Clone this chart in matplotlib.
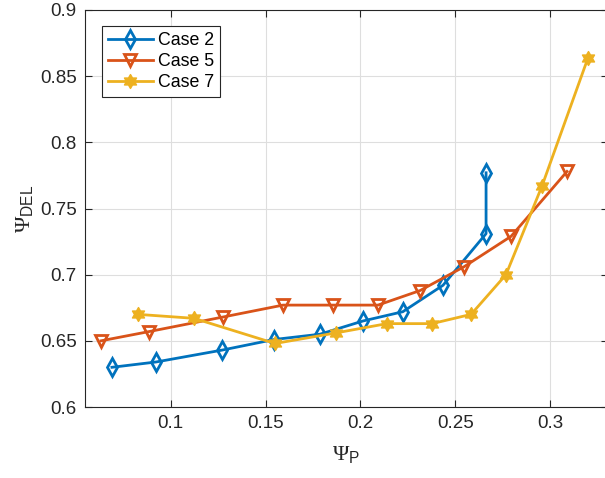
import numpy as np
import matplotlib
matplotlib.use("Agg")
import matplotlib.pyplot as plt
from matplotlib.path import Path

plt.rcParams['font.family'] = ['Liberation Sans', 'DejaVu Sans']
plt.rcParams['mathtext.fontset'] = 'custom'
plt.rcParams['mathtext.rm'] = 'Liberation Serif'
plt.rcParams['mathtext.sf'] = 'Liberation Sans'

# data
case2_x = [0.0690, 0.0922, 0.1271, 0.1545, 0.1787, 0.2014, 0.2224, 0.2436, 0.2663, 0.2663]
case2_y = [0.630, 0.634, 0.643, 0.651, 0.655, 0.665, 0.672, 0.692, 0.731, 0.777]

case5_x = [0.0632, 0.0886, 0.1276, 0.1592, 0.1856, 0.2093, 0.2315, 0.2547, 0.2795, 0.3090]
case5_y = [0.650, 0.657, 0.668, 0.677, 0.677, 0.677, 0.688, 0.706, 0.729, 0.778]

case7_x = [0.0828, 0.1123, 0.1550, 0.1872, 0.2140, 0.2378, 0.2584, 0.2768, 0.2958, 0.3201]
case7_y = [0.670, 0.667, 0.648, 0.656, 0.663, 0.663, 0.670, 0.700, 0.767, 0.864]

x_ticks = [0.1, 0.15, 0.2, 0.25, 0.3]
y_ticks = [0.6, 0.65, 0.7, 0.75, 0.8, 0.85, 0.9]

blue = '#0072BD'
orange = '#D95319'
yellow = '#EDB120'
dark = '#262626'

# six pointed star (MATLAB hexagram)
ang = np.deg2rad(90 + 30 * np.arange(12))
rad = np.where(np.arange(12) % 2 == 0, 1.0, 0.577)
verts = np.column_stack([rad * np.cos(ang), rad * np.sin(ang)])
verts = np.vstack([verts, verts[:1]])
hexagram = Path(verts, closed=True)

fig = plt.figure(figsize=(6.05, 4.78), dpi=100)
# right edge of the box falls just outside the picture, as in the reference
ax = fig.add_axes([85 / 605, 71 / 478, 523 / 605, 397 / 478])

ax.plot(case2_x, case2_y, '-', color=blue, lw=2, marker='d', ms=9,
        mfc='none', mec=blue, mew=2, label='Case 2')
ax.plot(case5_x, case5_y, '-', color=orange, lw=2, marker='v', ms=8.5,
        mfc='none', mec=orange, mew=2, label='Case 5')
ax.plot(case7_x, case7_y, '-', color=yellow, lw=2, marker=hexagram, ms=10,
        mfc=yellow, mec=yellow, mew=1, label='Case 7')

ax.set_xlim(0.0548, 0.3306)
ax.set_ylim(0.6, 0.9)
ax.set_xticks(x_ticks)
ax.set_yticks(y_ticks)
ax.set_xticklabels([f'{v:g}' for v in x_ticks])
ax.set_yticklabels([f'{v:g}' for v in y_ticks])

ax.grid(True, color='#dedede', lw=0.8)
ax.set_axisbelow(True)
ax.tick_params(direction='in', length=5, width=0.8, colors=dark,
               labelsize=13.5, top=True, right=True, pad=6)
for s in ax.spines.values():
    s.set_color(dark)
    s.set_linewidth(0.8)

ax.set_xlabel(r'$\Psi_{\mathsf{P}}$', fontsize=16, color=dark, labelpad=9)
ax.set_ylabel(r'$\Psi_{\mathsf{DEL}}$', fontsize=16, color=dark, labelpad=3)

leg = ax.legend(loc='upper left', bbox_to_anchor=(102 / 605, 1 - 26 / 478),
                bbox_transform=fig.transFigure, borderaxespad=0,
                fontsize=12.8, handlelength=2.5, handletextpad=0.3,
                labelspacing=0.22, borderpad=0.35, fancybox=False,
                framealpha=1, edgecolor=dark)
leg.get_frame().set_linewidth(0.8)

fig.savefig('out.png', dpi=100)
